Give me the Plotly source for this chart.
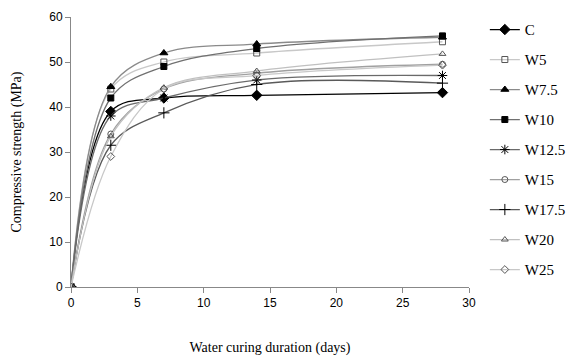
import plotly.graph_objects as go

days = [0, 3, 7, 14, 28]
series_names = ["C", "W5", "W7.5", "W10", "W12.5", "W15", "W17.5", "W20", "W25"]
C = [0, 39, 42, 42.6, 43.2]
W5 = [0, 44, 50, 52, 54.5]
W7_5 = [0, 44.5, 52, 54, 55.5]
W10 = [0, 42, 49, 53, 55.8]
W12_5 = [0, 38, 42, 46, 47]
W15 = [0, 34, 44, 47.5, 49.5]
W17_5 = [0, 31.5, 38.7, 45, 45.3]
W20 = [0, 33.5, 44.3, 48, 51.8]
W25 = [0, 29, 44, 47, 49.3]
values = [C, W5, W7_5, W10, W12_5, W15, W17_5, W20, W25]

styles = [
    ("diamond", "#000000", "#000000", 8),
    ("square-open", "#c8c8c8", "#555555", 6),
    ("triangle-up", "#8a8a8a", "#000000", 7),
    ("square", "#707070", "#000000", 6),
    ("asterisk-open", "#6a6a6a", "#000000", 8),
    ("circle-open", "#a0a0a0", "#555555", 6),
    ("cross-thin-open", "#5a5a5a", "#000000", 8),
    ("triangle-up-open", "#c0c0c0", "#555555", 6),
    ("diamond-open", "#c8c8c8", "#555555", 6),
]

fig = go.Figure()
for i, (name, vals) in enumerate(zip(series_names, values)):
    sym, lc, mc, sz = styles[i]
    fig.add_trace(go.Scatter(
        x=days, y=vals, name=name, mode="lines+markers",
        line=dict(color=lc, width=1.3, shape="spline", smoothing=1.0),
        marker=dict(symbol=sym, size=sz, color=mc,
                    line=dict(color=mc, width=1)),
        legendgroup=f"g{i}",
    ))

fig.update_layout(
    width=567, height=352,
    margin=dict(l=63, r=106, t=9, b=73),
    paper_bgcolor="white", plot_bgcolor="white",
    showlegend=True,
    legend=dict(xref="container", yref="container", x=0.841, y=0.985,
                xanchor="left", yanchor="top", maxheight=340,
                font=dict(family="Liberation Serif", size=15, color="#000"),
                tracegroupgap=7.5, traceorder="grouped", itemwidth=30,
                bgcolor="rgba(0,0,0,0)"),
    font=dict(family="Liberation Sans", size=12, color="#000"),
)
fig.update_xaxes(range=[0, 30], tickvals=[0, 5, 10, 15, 20, 25, 30],
                 showgrid=False, zeroline=False, showline=True, automargin=False,
                 linecolor="#888888", linewidth=1, ticks="outside",
                 ticklen=5, tickcolor="#888888",
                 title=dict(text="Water curing duration (days)",
                            font=dict(family="Liberation Serif", size=14), standoff=32))
fig.update_yaxes(range=[0, 60], tickvals=[0, 10, 20, 30, 40, 50, 60],
                 showgrid=False, zeroline=False, showline=True, automargin=False,
                 linecolor="#888888", linewidth=1, ticks="outside",
                 ticklen=5, tickcolor="#888888",
                 title=dict(text="Compressive strength (MPa)",
                            font=dict(family="Liberation Serif", size=14), standoff=24))

fig.write_html("out.html")
